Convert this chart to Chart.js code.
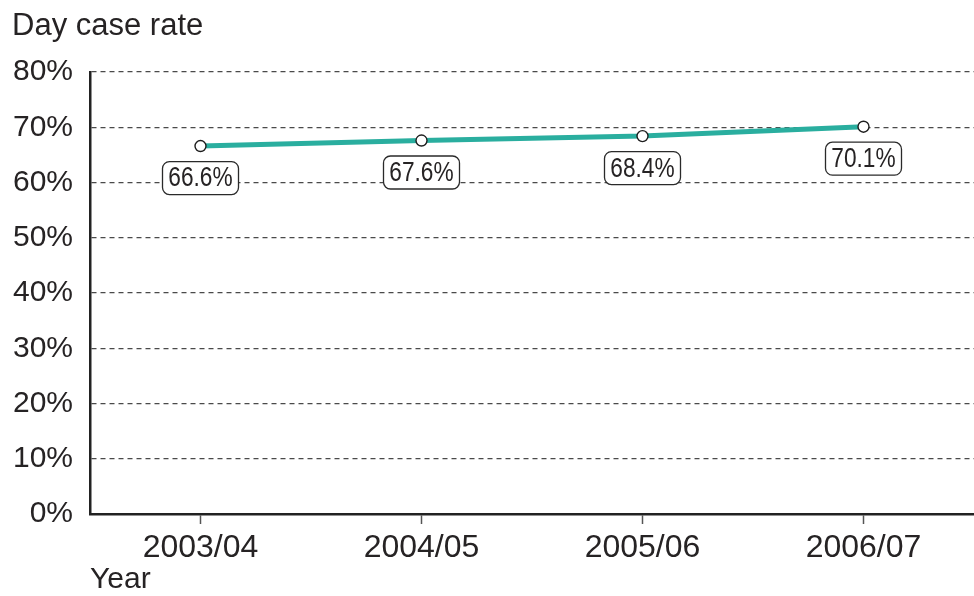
<!DOCTYPE html>
<html>
<head>
<meta charset="utf-8">
<script src="https://cdn.jsdelivr.net/npm/chart.js@4"></script>
<style>
  html, body { margin: 0; padding: 0; background: #ffffff; }
  #wrap { position: relative; width: 974px; height: 596px; }
</style>
</head>
<body>
<div id="wrap"><canvas id="c" width="974" height="596"></canvas></div>
<script>
// Day case rate by financial year
const years = ['2003/04', '2004/05', '2005/06', '2006/07'];
const dayCaseRate = [66.6, 67.6, 68.4, 70.1];
const rateTicks = [0, 10, 20, 30, 40, 50, 60, 70, 80];

const TEXT = '#262324';
const FONT = '"Liberation Sans", Arial, Helvetica, sans-serif';

// Title in the top-left corner
const titlePlugin = {
  id: 'topTitle',
  afterDraw(chart) {
    const ctx = chart.ctx;
    ctx.save();
    ctx.fillStyle = TEXT;
    ctx.font = '31px ' + FONT;
    ctx.textAlign = 'left';
    ctx.textBaseline = 'alphabetic';
    ctx.fillText('Day case rate', 12, 35);
    ctx.restore();
  }
};

// Boxed value labels beneath each point
const valueBoxes = {
  id: 'valueBoxes',
  afterDatasetsDraw(chart) {
    const ctx = chart.ctx;
    const meta = chart.getDatasetMeta(0);
    const values = chart.data.datasets[0].data;
    meta.data.forEach((pt, i) => {
      const text = values[i].toFixed(1) + '%';
      const cx = pt.x;
      const cy = pt.y + 32;
      const w = 76, h = 33, r = 7;
      ctx.save();
      ctx.beginPath();
      ctx.roundRect(cx - w / 2, cy - h / 2, w, h, r);
      ctx.fillStyle = '#ffffff';
      ctx.fill();
      ctx.lineWidth = 1.3;
      ctx.strokeStyle = '#2a2a2a';
      ctx.stroke();
      ctx.translate(cx, cy + 1);
      ctx.scale(0.84, 1);
      ctx.fillStyle = TEXT;
      ctx.font = '27px ' + FONT;
      ctx.textAlign = 'center';
      ctx.textBaseline = 'middle';
      ctx.fillText(text, 0, 0);
      ctx.restore();
    });
  }
};

new Chart(document.getElementById('c'), {
  type: 'line',
  data: {
    labels: years,
    datasets: [{
      data: dayCaseRate,
      borderColor: '#2aae9f',
      borderWidth: 5,
      tension: 0,
      pointRadius: 5.5,
      pointBackgroundColor: '#ffffff',
      pointBorderColor: '#1e1e1e',
      pointBorderWidth: 1.4,
      clip: false
    }]
  },
  options: {
    responsive: false,
    animation: false,
    devicePixelRatio: 1,
    layout: { autoPadding: false, padding: { top: 72, right: 0, left: 0, bottom: 0 } },
    plugins: {
      legend: { display: false },
      tooltip: { enabled: false }
    },
    scales: {
      x: {
        type: 'category',
        offset: true,
        afterFit(scale) { scale.height = 82; },
        border: { display: true, color: '#222222', width: 2.5 },
        grid: {
          drawOnChartArea: false,
          drawTicks: true,
          tickLength: 10,
          tickColor: '#555555',
          tickWidth: 1.5
        },
        ticks: {
          color: TEXT,
          font: { family: FONT, size: 32 },
          padding: 5,
          maxRotation: 0
        },
        title: {
          display: true,
          text: 'Year',
          align: 'start',
          color: TEXT,
          font: { family: FONT, size: 30, lineHeight: 1.0 },
          padding: { top: 0, bottom: 1 }
        }
      },
      y: {
        min: 0,
        max: 80,
        afterFit(scale) { scale.width = 90; },
        afterBuildTicks(scale) { scale.ticks = rateTicks.map(v => ({ value: v })); },
        border: { display: true, color: '#222222', width: 2.5, dash: [5, 4] },
        grid: {
          drawTicks: false,
          color: '#4a4a4a',
          lineWidth: 1.2
        },
        ticks: {
          color: TEXT,
          font: { family: FONT, size: 30 },
          padding: 17,
          callback: v => v + '%'
        }
      }
    }
  },
  plugins: [titlePlugin, valueBoxes]
});
</script>
</body>
</html>
